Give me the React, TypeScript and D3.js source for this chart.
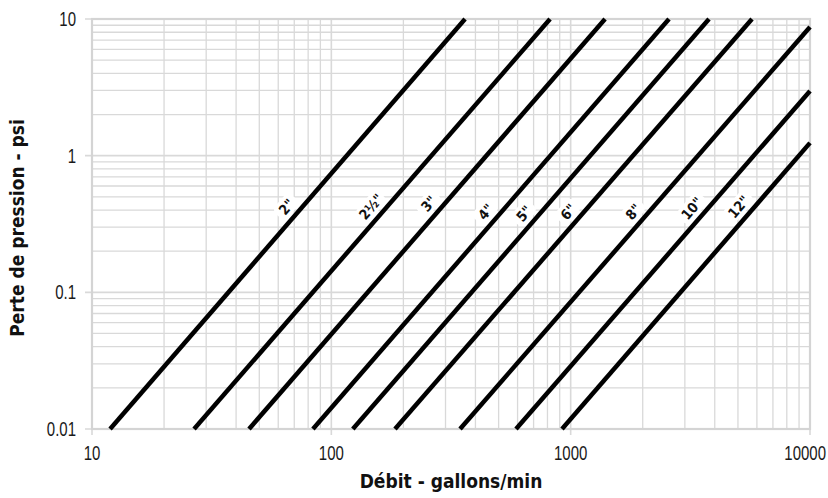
import * as d3 from 'd3'

const WIDTH = 828
const HEIGHT = 498
const MARGIN = { top: 19, right: 18, bottom: 69, left: 92 }

// pipe diameters and the two ends of each friction-loss line (flow in gpm, loss in psi)
const pipeSizes = ['2"', '2½"', '3"', '4"', '5"', '6"', '8"', '10"', '12"']
const startFlow = [11.9, 26.7, 45.3, 83.8, 123, 184.5, 345, 591, 920]
const startLoss = [0.01, 0.01, 0.01, 0.01, 0.01, 0.01, 0.01, 0.01, 0.01]
const endFlow = [362, 820, 1392, 2575, 3784, 5723, 10000, 10000, 10000]
const endLoss = [10, 10, 10, 10, 10, 10, 8.74, 2.97, 1.24]
const labelLoss = [0.37, 0.37, 0.39, 0.34, 0.33, 0.34, 0.34, 0.36, 0.37]

const xTicks = [10, 100, 1000, 10000]
const yTicks = [0.01, 0.1, 1, 10]
const yTickLabels = ['0.01', '0.1', '1', '10']

const TICK_FONT = "'Liberation Sans', Arial, sans-serif"
const TITLE_FONT = "'DejaVu Sans Condensed', 'DejaVu Sans', sans-serif"
const GRID = '#d9d9d9'
const NARROW = 0.75

function minorTicks(lo: number, hi: number) {
  const out: number[] = []
  for (let dec = lo; dec < hi; dec *= 10) {
    for (let m = 2; m <= 9; m++) out.push(dec * m)
  }
  return out
}

export default function App() {
  const innerW = WIDTH - MARGIN.left - MARGIN.right
  const innerH = HEIGHT - MARGIN.top - MARGIN.bottom

  const x = d3.scaleLog().domain([10, 10000]).range([0, innerW])
  const y = d3.scaleLog().domain([0.01, 10]).range([innerH, 0])

  const xMinor = minorTicks(10, 10000)
  const yMinor = minorTicks(0.01, 10)

  const lines = pipeSizes.map((size, i) => {
    const x0 = x(startFlow[i])
    const y0 = y(startLoss[i])
    const x1 = x(endFlow[i])
    const y1 = y(endLoss[i])
    const angle = (Math.atan2(y1 - y0, x1 - x0) * 180) / Math.PI
    // where the label sits along the line, in log space
    const t = (Math.log10(labelLoss[i]) - Math.log10(startLoss[i])) /
      (Math.log10(endLoss[i]) - Math.log10(startLoss[i]))
    const lx = x0 + (x1 - x0) * t
    const ly = y0 + (y1 - y0) * t
    return { size, x0, y0, x1, y1, angle, lx, ly }
  })

  return (
    <svg
      width={WIDTH}
      height={HEIGHT}
      style={{ position: 'absolute', left: 0, top: 0, background: '#fff' }}
    >
      <g transform={`translate(${MARGIN.left} ${MARGIN.top})`}>
        {xMinor.map((t) => (
          <line key={`xm${t}`} x1={x(t)} x2={x(t)} y1={0} y2={innerH} stroke={GRID} strokeWidth={1.3} />
        ))}
        {yMinor.map((t) => (
          <line key={`ym${t}`} x1={0} x2={innerW} y1={y(t)} y2={y(t)} stroke={GRID} strokeWidth={1.3} />
        ))}
        {xTicks.map((t, i) => {
          // last label is pulled inside the page edge
          const last = i === xTicks.length - 1
          const tx = last ? innerW + MARGIN.right - 2 : x(t)
          return (
            <g key={`xt${t}`}>
              <line x1={x(t)} x2={x(t)} y1={0} y2={innerH + 6} stroke={GRID} strokeWidth={1.6} />
              <text
                transform={`translate(${tx} ${innerH + 31}) scale(${NARROW} 1)`}
                textAnchor={last ? 'end' : 'middle'}
                fontFamily={TICK_FONT}
                fontSize={20}
                fill="#1a1a1a"
              >
                {t}
              </text>
            </g>
          )
        })}
        {yTicks.map((t, i) => (
          <g key={`yt${t}`}>
            <line x1={-7} x2={innerW} y1={y(t)} y2={y(t)} stroke={GRID} strokeWidth={1.6} />
            <text
              transform={`translate(-16 ${y(t)}) scale(${NARROW} 1)`}
              dy="0.35em"
              textAnchor="end"
              fontFamily={TICK_FONT}
              fontSize={20}
              fill="#1a1a1a"
            >
              {yTickLabels[i]}
            </text>
          </g>
        ))}
        <rect x={0} y={0} width={innerW} height={innerH} fill="none" stroke="#d4d4d4" strokeWidth={2.2} />

        {lines.map((l) => (
          <line key={l.size} x1={l.x0} y1={l.y0} x2={l.x1} y2={l.y1} stroke="#000" strokeWidth={4.5} />
        ))}

        {lines.map((l) => {
          const w = l.size.length * 7.5 + 4
          return (
            <g key={`lab${l.size}`} transform={`translate(${l.lx} ${l.ly}) rotate(${l.angle})`}>
              <rect x={-w / 2 - 3} y={-21} width={w + 6} height={17} rx={6} fill="#fff" />
              <text
                x={0}
                y={-7}
                textAnchor="middle"
                fontFamily={TITLE_FONT}
                fontSize={14}
                fontWeight="bold"
                fill="#111"
              >
                {l.size}
              </text>
            </g>
          )
        })}
      </g>

      <text
        x={MARGIN.left + innerW / 2}
        y={HEIGHT - 10}
        textAnchor="middle"
        fontFamily={TITLE_FONT}
        fontSize={19}
        fontWeight="bold"
        fill="#111"
      >
        Débit - gallons/min
      </text>
      <text
        transform={`translate(24 ${MARGIN.top + innerH / 2 + 4}) rotate(-90)`}
        textAnchor="middle"
        fontFamily={TITLE_FONT}
        fontSize={19}
        fontWeight="bold"
        fill="#111"
      >
        Perte de pression - psi
      </text>
    </svg>
  )
}
